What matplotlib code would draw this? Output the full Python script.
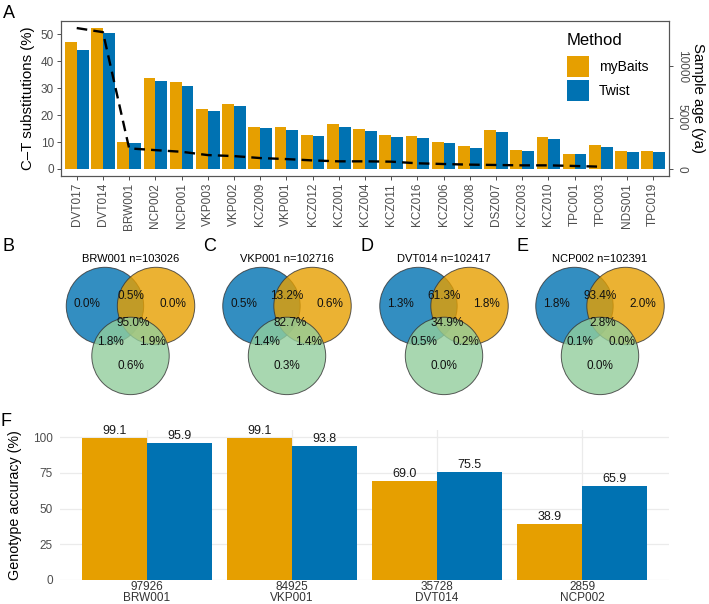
import matplotlib
matplotlib.use('Agg')
import matplotlib.pyplot as plt
import numpy as np
from matplotlib.patches import Circle
from matplotlib.colors import to_rgba

plt.rcParams['font.family'] = ['Liberation Sans', 'DejaVu Sans']

# ---------------- data ----------------
samples = ['DVT017', 'DVT014', 'BRW001', 'NCP002', 'NCP001', 'VKP003', 'VKP002',
           'KCZ009', 'VKP001', 'KCZ012', 'KCZ001', 'KCZ004', 'KCZ011', 'KCZ016',
           'KCZ006', 'KCZ008', 'DSZ007', 'KCZ003', 'KCZ010', 'TPC001', 'TPC003',
           'NDS001', 'TPC019']
ct_mybaits = [47.1, 52.3, 10.1, 33.7, 32.2, 22.4, 24.0, 15.6, 15.4, 12.7, 16.7,
              14.9, 12.5, 12.3, 10.1, 8.4, 14.5, 7.0, 11.9, 5.6, 8.8, 6.6, 6.8]
ct_twist = [44.3, 50.5, 9.5, 32.8, 30.9, 21.4, 23.3, 15.2, 14.5, 12.2, 15.6,
            14.1, 11.7, 11.6, 9.8, 7.8, 13.9, 6.6, 11.2, 5.4, 8.3, 6.2, 6.2]
sample_age = [13700, 13300, 2000, 1830, 1670, 1350, 1250, 1060, 960, 830, 740,
              740, 710, 550, 480, 420, 385, 350, 350, 290, 220, np.nan, np.nan]

venn_letters = ['B', 'C', 'D', 'E']
venn_titles = ['BRW001 n=103026', 'VKP001 n=102716', 'DVT014 n=102417', 'NCP002 n=102391']
# regions: blue only, blue&orange, orange only, all three, blue&green, orange&green, green only
venn_values = [
    [0.0, 0.5, 0.0, 95.0, 1.8, 1.9, 0.6],
    [0.5, 13.2, 0.6, 82.7, 1.4, 1.4, 0.3],
    [1.3, 61.3, 1.8, 34.9, 0.5, 0.2, 0.0],
    [1.8, 93.4, 2.0, 2.8, 0.1, 0.0, 0.0],
]

acc_samples = ['BRW001', 'VKP001', 'DVT014', 'NCP002']
acc_sites = [97926, 84925, 35728, 2859]
acc_mybaits = [99.1, 99.1, 69.0, 38.9]
acc_twist = [95.9, 93.8, 75.5, 65.9]

ORANGE = '#E69F00'
BLUE = '#0072B2'
GREEN = '#92CE9C'
TXT = '#4D4D4D'

W, H = 709, 604
fig = plt.figure(figsize=(W / 100, H / 100), dpi=100)


def rect(l, t, r, b):
    return [l / W, 1 - b / H, (r - l) / W, (b - t) / H]


# ---------------- panel A ----------------
axA = fig.add_axes(rect(61, 21, 669, 176))
x = np.arange(len(samples))
bw = 0.45
hb1 = axA.bar(x - bw / 2, ct_mybaits, bw, color=ORANGE, label='myBaits', zorder=2)
hb2 = axA.bar(x + bw / 2, ct_twist, bw, color=BLUE, label='Twist', zorder=2)
ymax = max(max(ct_mybaits), max(ct_twist))
axA.set_xlim(-0.6, len(samples) - 0.4)
axA.set_ylim(-0.05 * ymax, 1.05 * ymax)
k = np.nanmax(sample_age) / ymax
axA.plot(x, np.array(sample_age) / k, color='black', lw=1.7, ls=(0, (4.5, 2.6)), zorder=3)
axA.set_yticks([0, 10, 20, 30, 40, 50])
axA.set_xticks(x)
axA.set_xticklabels(samples, rotation=90)
axA.set_ylabel('C\u2013T substitutions (%)', fontsize=10.8, labelpad=4)
axA.tick_params(axis='both', length=3, width=0.6, color='#333333', labelcolor=TXT,
                labelsize=8.5, pad=2)
for s in axA.spines.values():
    s.set_color('#555555')
    s.set_linewidth(0.8)

axR = axA.twinx()
lo, hi = axA.get_ylim()
axR.set_ylim(lo * k, hi * k)
axR.set_yticks([0, 5000, 10000])
axR.set_yticklabels(['0', '5000', '10000'], rotation=-90, va='center')
axR.tick_params(axis='y', length=3, width=0.6, color='#333333', labelcolor=TXT,
                labelsize=8.5, pad=2)
axR.set_ylabel('Sample age (ya)', rotation=270, fontsize=10.8, labelpad=12)
for s in axR.spines.values():
    s.set_color('#555555')
    s.set_linewidth(0.8)

leg = axA.legend(handles=[hb1, hb2], title='Method', loc='upper left',
                 bbox_to_anchor=(0.832, 0.925), frameon=False, fontsize=10,
                 title_fontsize=12, handlelength=1.58, handleheight=1.95,
                 handletextpad=0.75, labelspacing=0.2, borderpad=0, borderaxespad=0)
leg._legend_box.align = 'left'
leg._legend_box.sep = 6

# ---------------- panel F ----------------
axF = fig.add_axes(rect(60, 430, 669, 580))
xf = np.arange(len(acc_samples))
axF.bar(xf - bw / 2, acc_mybaits, bw, color=ORANGE, zorder=2)
axF.bar(xf + bw / 2, acc_twist, bw, color=BLUE, zorder=2)
for xi, v in zip(xf - bw / 2, acc_mybaits):
    axF.text(xi, v + 0.8, f'{v:.1f}', ha='center', va='bottom', fontsize=9, color='#1a1a1a')
for xi, v in zip(xf + bw / 2, acc_twist):
    axF.text(xi, v + 0.8, f'{v:.1f}', ha='center', va='bottom', fontsize=9, color='#1a1a1a')
axF.set_xlim(-0.6, len(acc_samples) - 0.4)
axF.set_ylim(0, 105)
axF.set_yticks([0, 25, 50, 75, 100])
axF.set_xticks(xf)
axF.set_xticklabels([f'{n}\n{s}' for n, s in zip(acc_sites, acc_samples)], linespacing=0.88)
axF.grid(True, color='#EBEBEB', lw=0.9)
axF.set_axisbelow(True)
for s in axF.spines.values():
    s.set_visible(False)
axF.tick_params(axis='both', length=0, labelcolor='#333333', labelsize=8.5)
axF.tick_params(axis='x', pad=1)
axF.tick_params(axis='y', pad=5, labelcolor=TXT)
axF.set_ylabel('Genotype accuracy (%)', fontsize=10.3)
axF.yaxis.set_label_coords(-0.062, 0.5)

# ---------------- Venn panels + letters ----------------
axV = fig.add_axes([0, 0, 1, 1])
axV.set_xlim(0, W)
axV.set_ylim(H, 0)
axV.axis('off')

r = 38.7
centers_x = [130.5, 287, 444, 600]
cy = 306
circ_off = [(-0.66, 0.0, BLUE), (0.66, 0.0, ORANGE), (0.0, 1.29, GREEN)]
text_off = [(-1.12, -0.05), (0.0, -0.26), (1.10, -0.05), (0.08, 0.45),
            (-0.53, 0.93), (0.56, 0.93), (0.0, 1.55)]
for cx, title, vals in zip(centers_x, venn_titles, venn_values):
    for dx, dy, c in circ_off:
        axV.add_patch(Circle((cx + dx * r, cy + dy * r), r, facecolor=to_rgba(c, 0.8),
                             edgecolor=(0.2, 0.2, 0.2, 0.8), lw=0.7))
    for (dx, dy), v in zip(text_off, vals):
        axV.text(cx + dx * r, cy + dy * r, f'{v:.1f}%', ha='center', va='center',
                 fontsize=8.5, color='#111111')
    axV.text(cx, 259, title, ha='center', va='center', fontsize=8, color='black')

letters = ['A'] + venn_letters + ['F']
letter_pos = [(9, 13.5), (8.5, 246.5), (210, 246.5), (367, 246.5), (523, 246.5), (6, 421)]
for L, (lx, ly) in zip(letters, letter_pos):
    axV.text(lx, ly, L, ha='center', va='center', fontsize=13, color='black')

fig.savefig('out.png', dpi=100)
